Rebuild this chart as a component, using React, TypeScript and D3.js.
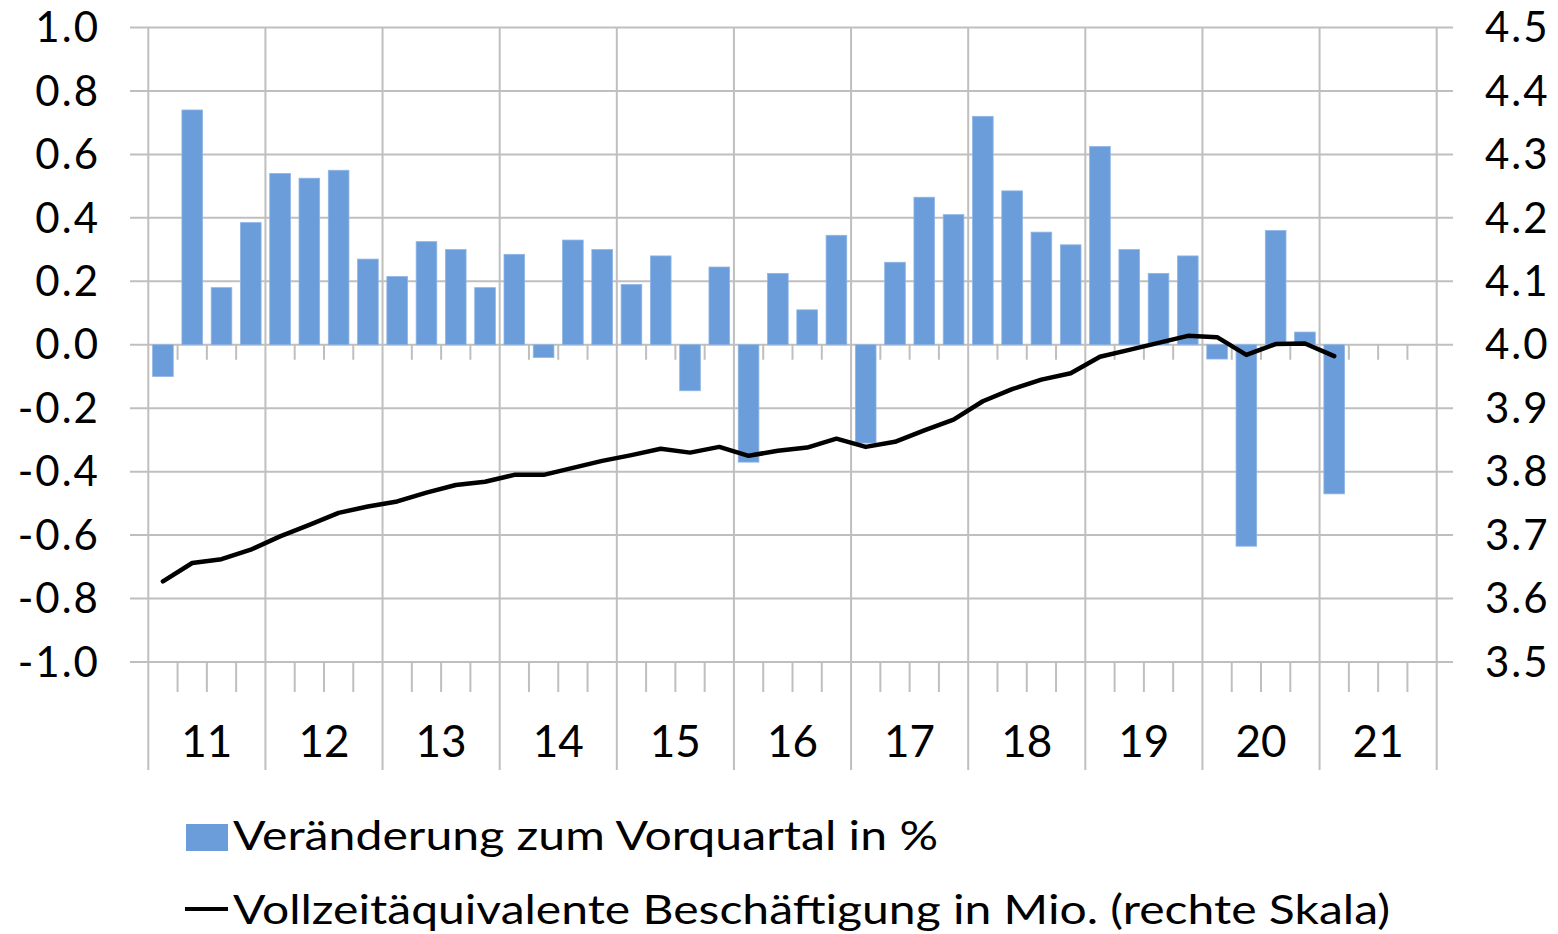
import React from 'react';
import * as d3 from 'd3';

const years = ['11', '12', '13', '14', '15', '16', '17', '18', '19', '20', '21'];
const quartersPerYear = 4;

// Veränderung zum Vorquartal in % (2011Q1 .. 2021Q1)
const changes = [
  -0.10, 0.74, 0.18, 0.385,
  0.54, 0.525, 0.55, 0.27,
  0.215, 0.325, 0.30, 0.18,
  0.285, -0.04, 0.33, 0.30,
  0.19, 0.28, -0.145, 0.245,
  -0.37, 0.225, 0.11, 0.345,
  -0.31, 0.26, 0.465, 0.41,
  0.72, 0.485, 0.355, 0.315,
  0.625, 0.30, 0.225, 0.28,
  -0.045, -0.635, 0.36, 0.04,
  -0.47,
];

// Vollzeitäquivalente Beschäftigung in Mio. (rechte Skala)
const employment = [
  3.627, 3.656, 3.662, 3.677,
  3.698, 3.716, 3.735, 3.745,
  3.753, 3.767, 3.779, 3.784,
  3.795, 3.795, 3.806, 3.817,
  3.826, 3.836, 3.830, 3.839,
  3.825, 3.833, 3.838, 3.852,
  3.839, 3.847, 3.865, 3.882,
  3.911, 3.930, 3.945, 3.955,
  3.981, 3.992, 4.003, 4.014,
  4.012, 3.984, 4.001, 4.002,
  3.982,
];

const leftTicks = [-1.0, -0.8, -0.6, -0.4, -0.2, 0.0, 0.2, 0.4, 0.6, 0.8, 1.0];
const rightTicks = [3.5, 3.6, 3.7, 3.8, 3.9, 4.0, 4.1, 4.2, 4.3, 4.4, 4.5];

const legendBar = 'Veränderung zum Vorquartal in %';
const legendLine = 'Vollzeitäquivalente Beschäftigung in Mio. (rechte Skala)';

const W = 1558;
const H = 934;
const X0 = 148.3;
const X1 = 1436.7;
const YT = 27.5;
const YB = 662;

const GRID = '#BFBFBF';
const BAR = '#6B9DDA';
const FONT = 'Lato, "Open Sans", sans-serif';

export default function App() {
  const nQ = years.length * quartersPerYear;
  const qIdx = d3.range(nQ);
  const xq = d3.scaleBand<number>().domain(qIdx).range([X0, X1]).paddingInner(0.295).paddingOuter(0.1475);
  const xqFull = d3.scaleBand<number>().domain(qIdx).range([X0, X1]).padding(0);
  const xy = d3.scaleBand<string>().domain(years).range([X0, X1]).padding(0);
  const yL = d3.scaleLinear().domain([-1, 1]).range([YB, YT]);
  const yR = d3.scaleLinear().domain([3.5, 4.5]).range([YB, YT]);

  const line = d3
    .line<number>()
    .x((_, i) => (xqFull(i) as number) + xqFull.bandwidth() / 2)
    .y((d) => yR(d));

  const y0 = yL(0);
  const yearBounds = years.map((y) => xy(y) as number).concat([X1]);
  const minorBounds = qIdx.filter((i) => i % quartersPerYear !== 0).map((i) => xqFull(i) as number);

  return (
    <svg width={W} height={H} style={{ position: 'absolute', left: 0, top: 0, background: '#fff' }}>
      {leftTicks.map((t) => (
        <line key={'h' + t} x1={130} x2={1453} y1={yL(t)} y2={yL(t)} stroke={GRID} strokeWidth={2} />
      ))}
      {yearBounds.map((x, i) => (
        <line key={'v' + i} x1={x} x2={x} y1={YT} y2={770} stroke={GRID} strokeWidth={2} />
      ))}
      {minorBounds.map((x, i) => (
        <g key={'m' + i}>
          <line x1={x} x2={x} y1={y0} y2={y0 + 15} stroke={GRID} strokeWidth={2} />
          <line x1={x} x2={x} y1={YB} y2={YB + 30} stroke={GRID} strokeWidth={2} />
        </g>
      ))}
      {changes.map((v, i) => {
        const x = xq(i) as number;
        const yv = yL(v);
        return (
          <rect
            key={'b' + i}
            x={x}
            y={Math.min(yv, y0)}
            width={xq.bandwidth()}
            height={Math.abs(yv - y0)}
            fill={BAR}
            stroke="#8FB5E6"
            strokeWidth={0.8}
          />
        );
      })}
      <path d={line(employment) || ''} fill="none" stroke="#000" strokeWidth={4.5} strokeLinejoin="round" strokeLinecap="round" />
      {leftTicks.map((t) => (
        <text key={'l' + t} x={100} y={yL(t)} dy="0.35em" textAnchor="end" fontFamily={FONT} fontSize={42} letterSpacing={2} fill="#000">
          {t.toFixed(1)}
        </text>
      ))}
      {rightTicks.map((t) => (
        <text key={'r' + t} x={1485} y={yR(t)} dy="0.35em" textAnchor="start" fontFamily={FONT} fontSize={42} letterSpacing={2} fill="#000">
          {t.toFixed(1)}
        </text>
      ))}
      {years.map((y) => (
        <text key={'y' + y} x={(xy(y) as number) + xy.bandwidth() / 2} y={757} textAnchor="middle" fontFamily={FONT} fontSize={44} fill="#000">
          {y}
        </text>
      ))}
      <rect x={186} y={824} width={42} height={27} fill={BAR} />
      <text x={233} y={850} fontFamily={FONT} fontSize={41} fill="#000" textLength={705} lengthAdjust="spacingAndGlyphs">
        {legendBar}
      </text>
      <line x1={185} x2={228} y1={909} y2={909} stroke="#000" strokeWidth={4} />
      <text x={233} y={924} fontFamily={FONT} fontSize={41} fill="#000" textLength={1157} lengthAdjust="spacingAndGlyphs">
        {legendLine}
      </text>
    </svg>
  );
}
